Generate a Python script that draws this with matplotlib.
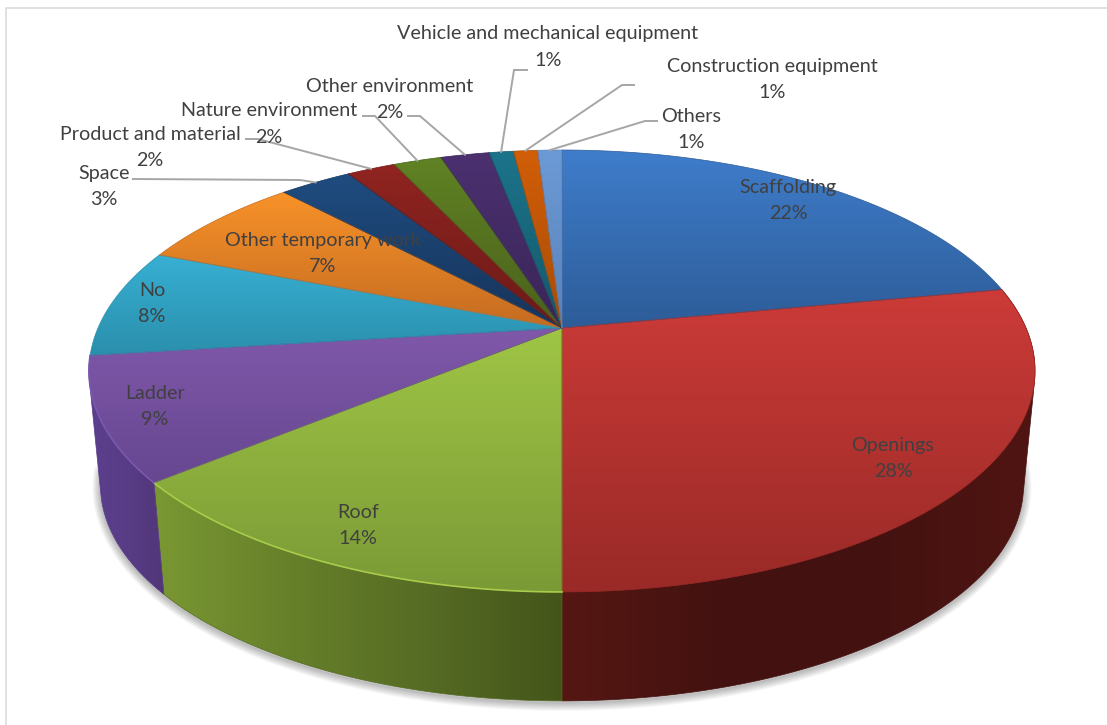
import matplotlib
matplotlib.use('Agg')
import matplotlib.pyplot as plt
import numpy as np
from matplotlib.colors import LinearSegmentedColormap
from matplotlib.patches import Polygon

categories = ['Scaffolding', 'Openings', 'Roof', 'Ladder', 'No',
              'Other temporary work', 'Space', 'Product and material',
              'Nature environment', 'Other environment',
              'Vehicle and mechanical equipment', 'Construction equipment',
              'Others']
values = [22, 28, 14, 9, 8, 7, 3, 2, 2, 2, 1, 1, 1]

# Top face colours of each slice, upper end then lower end of its gradient.
top_colors = [('#3f7dcb', '#2d5c98'), ('#cc3b38', '#992a27'),
              ('#9fc545', '#7a9a36'), ('#8058aa', '#664790'),
              ('#38b0d4', '#2a8fac'), ('#f89229', '#c56c22'),
              ('#1f4c80', '#16345a'), ('#902420', '#6c1a18'),
              ('#608224', '#4a611c'), ('#4c3070', '#392558'),
              ('#1c748b', '#14586b'), ('#d25e08', '#a84c06'),
              ('#6c9ad6', '#5a82b8')]
# Side wall colours, left to right, for the slices seen from the front.
side_colors = {1: ['#561713', '#431210', '#431210', '#501512'],
               2: ['#7a9833', '#66802a', '#566b24', '#44551a'],
               3: ['#5d408e', '#583c86', '#523678']}
rim_colors = {2: '#a9cc4c', 3: '#7a58b0'}

label_text_color = '#404040'
leader_color = '#a6a6a6'

# (name line x, name line y, percent line y) for every label.
label_pos = [(788, 187, 213), (893, 445, 471), (358, 512, 538),
             (155, 393, 419), (152, 290, 316), (323, 240, 266),
             (104, 173, 199), (150, 134, 160), (269, 110, 137),
             (390, 86, 112), (548, 33, 60), (772, 66, 92), (691, 116, 142)]
# Leader elbows for the labels outside the pie.
leaders = {6: [(133, 179), (300, 180)],
           7: [(246, 139), (258, 139)],
           8: [(363, 116), (375, 116)],
           9: [(408, 116), (420, 116)],
           10: [(527, 70), (514, 70)],
           11: [(634, 85), (622, 85)],
           12: [(657, 121), (645, 121)]}

# Perspective of the pie top: centre, scales and foreshortening.
cx, cy = 562, 328
scale_x, scale_y, tilt = 464, 212.6, 0.1945
# Bottom rim is the top rim shrunk a little and moved down.
shrink, drop = 0.9756, 123.4


def rim(theta):
    # theta is measured clockwise from twelve o'clock, in degrees.
    a = np.radians(90 - np.asarray(theta, dtype=float))
    u, v = np.cos(a), np.sin(a)
    w = 1 + tilt * v
    return cx + scale_x * u / w, cy - scale_y * v / w


def bottom_rim(theta):
    x, y = rim(theta)
    return cx + shrink * (x - cx), shrink * y + drop


def hull(xs, ys):
    # Convex outline of the points, monotone chain.
    pts = sorted(set(zip(xs.tolist(), ys.tolist())))

    def half(points):
        out = []
        for p in points:
            while len(out) > 1 and ((out[-1][0] - out[-2][0]) * (p[1] - out[-2][1])
                                    - (out[-1][1] - out[-2][1]) * (p[0] - out[-2][0])) <= 0:
                out.pop()
            out.append(p)
        return out[:-1]

    outline = np.array(half(pts) + half(pts[::-1]))
    return outline[:, 0], outline[:, 1]


def shade(ax, xs, ys, colors, vertical, zorder):
    # Fill a polygon with a linear gradient clipped to its outline.
    cmap = LinearSegmentedColormap.from_list('fill', colors)
    ramp = np.linspace(0, 1, 256)
    ramp = ramp[:, None] if vertical else ramp[None, :]
    patch = Polygon(np.column_stack([xs, ys]), closed=True,
                    facecolor='none', edgecolor='none', zorder=zorder)
    ax.add_patch(patch)
    im = ax.imshow(ramp, cmap=cmap, aspect='auto', zorder=zorder,
                   origin='upper', interpolation='bilinear',
                   extent=(min(xs), max(xs), max(ys), min(ys)))
    im.set_clip_path(patch)
    ax.plot(np.append(xs, xs[0]), np.append(ys, ys[0]),
            color=colors[len(colors) // 2], lw=0.5, zorder=zorder + 0.1)


fig = plt.figure(figsize=(11.07, 7.25), dpi=100)
ax = fig.add_axes([0, 0, 1, 1])
plt.rcParams['font.family'] = ['Lato', 'DejaVu Sans']

bounds = np.cumsum([0] + values) / sum(values) * 360

# Soft shadow under the front of the pie.
arc = np.linspace(bounds[1], bounds[4], 200)
sx, sy = bottom_rim(arc)
for lw in np.arange(1, 12, 1.5):
    ax.plot(sx, sy + 2, color='black', alpha=0.035, lw=lw, zorder=1,
            solid_capstyle='round')

# Side walls of the front slices.
for i, stops in side_colors.items():
    arc = np.linspace(bounds[i], bounds[i + 1], 120)
    tx, ty = rim(arc)
    bx, by = bottom_rim(arc)
    xs, ys = hull(np.concatenate([tx, bx]), np.concatenate([ty, by]))
    shade(ax, xs, ys, stops, False, 2 + i * 0.2)

# Top faces.
for i, colors in enumerate(top_colors):
    arc = np.linspace(bounds[i], bounds[i + 1], 120)
    tx, ty = rim(arc)
    xs = np.concatenate([[cx], tx])
    ys = np.concatenate([[cy], ty])
    shade(ax, xs, ys, colors, True, 4 + i * 0.01)

# Lighter edge where the top meets the wall.
for i, color in rim_colors.items():
    arc = np.linspace(bounds[i], bounds[i + 1], 120)
    tx, ty = rim(arc)
    ax.plot(tx, ty, color=color, lw=1.2, zorder=5)

# Leader lines run from the elbow to the middle of the slice's outer edge.
for i, pts in leaders.items():
    ex, ey = rim((bounds[i] + bounds[i + 1]) / 2)
    ax.plot([pts[0][0], pts[1][0], ex], [pts[0][1], pts[1][1], ey],
            color=leader_color, lw=1.4, zorder=6, solid_joinstyle='miter')

for i, name in enumerate(categories):
    x, y1, y2 = label_pos[i]
    ax.text(x, y1, name, ha='center', va='center', fontsize=14.2,
            color=label_text_color, zorder=7)
    ax.text(x, y2, '%d%%' % values[i], ha='center', va='center', fontsize=14.2,
            color=label_text_color, zorder=7)

# Thin frame along the top and left of the chart area.
ax.plot([1107, 5.5, 5.5], [7.5, 7.5, 725], color='#dcdcdc', lw=1.2, zorder=0)

ax.set_xlim(0, 1107)
ax.set_ylim(725, 0)
ax.axis('off')

plt.savefig('out.png', dpi=100)
